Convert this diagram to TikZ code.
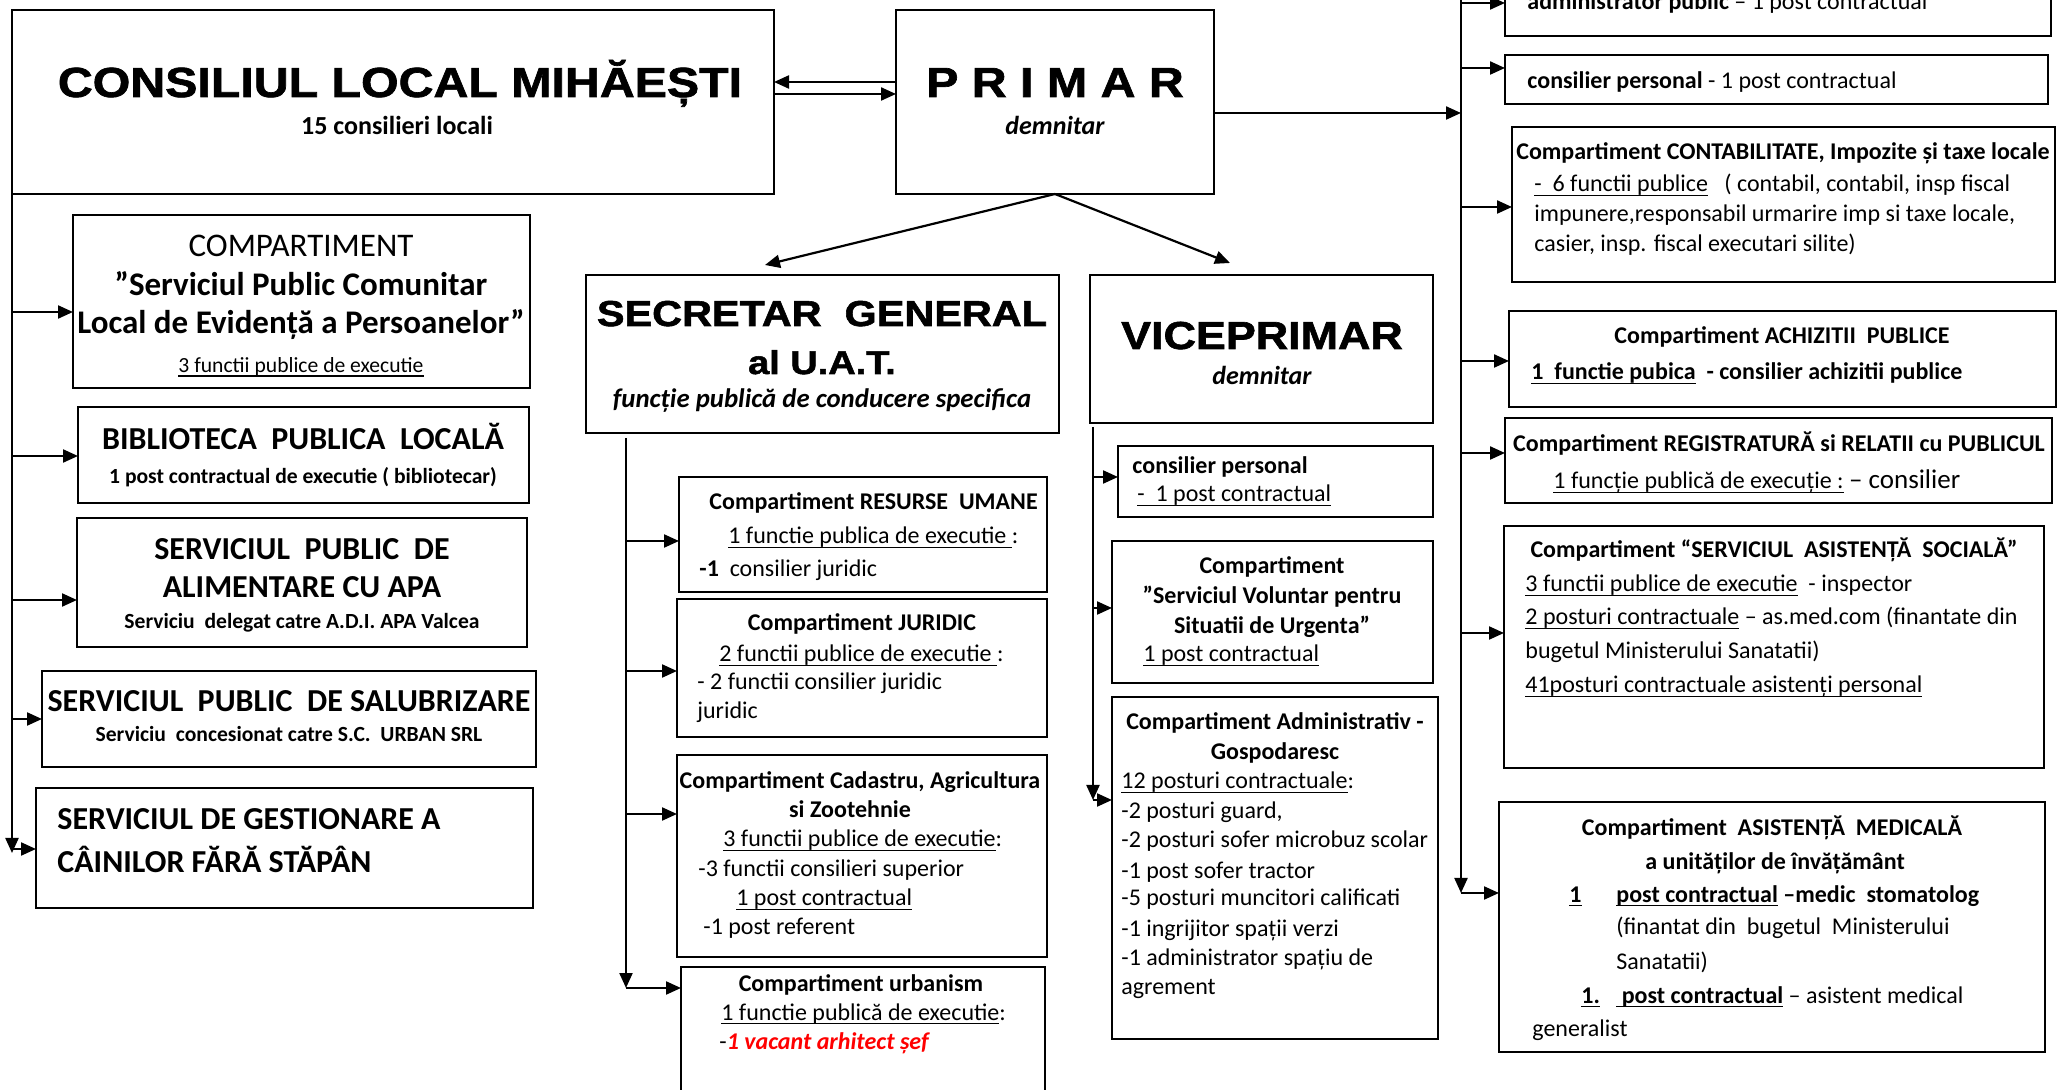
\documentclass[tikz,border=0pt]{standalone}
\usepackage{fontspec}
\setmainfont{Carlito}
\newfontfamily\hfont{Liberation Sans}[FakeStretch=1.15,FakeBold=1.6]
\usetikzlibrary{arrows.meta,fit}
\newcounter{tn}
\newcommand\ct[3]{\stepcounter{tn}\node[anchor=base,inner sep=0pt] (t\arabic{tn}) at (#1,#2) {#3};}
\newcommand\lt[3]{\stepcounter{tn}\node[anchor=base west,inner sep=0pt] (t\arabic{tn}) at (#1,#2) {#3};}
\newcommand\bx[5]{\node[box,fit={(#2,#3) (#4,#5)}] (#1) {};}
\newcommand\fs[1]{\fontsize{#1}{#1}\selectfont}
\newcommand\hf[2]{{\hfont\bfseries\fontsize{#1}{#1}\selectfont #2}}
\newcommand\uline[1]{{\setbox0=\hbox{#1}\rlap{\rule[-0.17em]{\wd0}{0.055em}}\box0}}
\tikzset{
  box/.style={draw, line width=1pt, inner sep=0pt, outer sep=0pt},
  arr/.style={line width=1.1pt, -{Triangle[length=7.5pt,width=6.5pt]}},
  every node/.style={font=\fontsize{12}{14}\selectfont}
}
\begin{document}
\begin{tikzpicture}[x=0.5pt,y=-0.5pt]
\useasboundingbox (0,0) rectangle (2058,1090);
\fill[white] (0,0) rectangle (2058,1090);
% ---------- boxes
\bx{consiliul}{12}{10}{774}{194}
\bx{primar}{896}{10}{1214}{194}
\bx{r1}{1505}{-40}{2051}{36}
\bx{r2}{1505}{55}{2048}{104}
\bx{r3}{1512}{127}{2055}{282}
\bx{r4}{1509}{311}{2056}{407}
\bx{r5}{1505}{418}{2052}{503}
\bx{r6}{1504}{526}{2044}{768}
\bx{r7}{1499}{802}{2045}{1052}
\bx{l1}{73}{215}{530}{388}
\bx{l2}{78}{407}{529}{503}
\bx{l3}{77}{518}{527}{647}
\bx{l4}{42}{671}{536}{767}
\bx{l5}{36}{788}{533}{908}
\bx{sec}{586}{275}{1059}{433}
\bx{m1}{679}{477}{1047}{592}
\bx{m2}{677}{599}{1047}{737}
\bx{m3}{677}{755}{1047}{957}
\bx{m4}{681}{967}{1045}{1110}
\bx{vice}{1090}{275}{1433}{423}
\bx{v1}{1118}{446}{1433}{517}
\bx{v2}{1112}{541}{1433}{683}
\bx{v3}{1112}{697}{1438}{1039}
% ---------- texts
\ct{400}{97}{\hf{21}{CONSILIUL LOCAL MIHĂEȘTI}}
\ct{397}{135}{\fs{13}\bfseries 15 consilieri locali}
\ct{1055}{97}{\hf{21}{P R I M A R}}
\ct{1055}{135}{\fs{13}\bfseries\itshape demnitar}
% right column
\lt{1527}{10}{{\bfseries administrator public} – 1 post contractual}
\lt{1527}{89}{{\bfseries consilier personal} - 1 post contractual}
\ct{1783}{160}{\bfseries Compartiment CONTABILITATE, Impozite și taxe locale}
\lt{1534}{192}{\uline{-\ \ 6 functii publice}\ \ \ ( contabil, contabil, insp fiscal}
\lt{1534}{222}{impunere,responsabil urmarire imp si taxe locale,}
\lt{1534}{252}{casier, insp. fiscal executari silite)}
\ct{1782}{344}{\bfseries Compartiment ACHIZITII\ \ PUBLICE}
\lt{1531}{380}{\bfseries\uline{1\ \ functie pubica}\ \ - consilier achizitii publice}
\ct{1779}{452}{\bfseries Compartiment REGISTRATURĂ si RELATII cu PUBLICUL}
\lt{1553}{489}{\uline{1 funcție publică de execuție :} {\fs{13.5}– consilier}}
\ct{1774}{558}{\bfseries Compartiment “SERVICIUL\ \ ASISTENȚĂ\ \ SOCIALĂ”}
\lt{1525}{592}{\uline{3 functii publice de executie}\ \ - inspector}
\lt{1525}{625}{\uline{2 posturi contractuale} – as.med.com (finantate din}
\lt{1525}{659}{bugetul Ministerului Sanatatii)}
\lt{1525}{693}{\uline{41posturi contractuale asistenți personal}}
\ct{1772}{836}{\bfseries Compartiment\ \ ASISTENȚĂ\ \ MEDICALĂ}
\ct{1775}{870}{\bfseries a unităților de învățământ}
\lt{1569}{902}{\bfseries\uline{1}}
\lt{1616}{902}{\bfseries\uline{post contractual} –medic\ \ stomatolog}
\lt{1616}{935}{(finantat din\ \ bugetul\ \ Ministerului}
\lt{1616}{969}{Sanatatii)}
\lt{1581}{1003}{\bfseries\uline{1.}}
\lt{1616}{1003}{{\bfseries\uline{\ post contractual}} – asistent medical}
\lt{1532}{1036}{generalist}
% left column
\ct{301}{257}{\fs{16.5}COMPARTIMENT}
\ct{301}{296}{\fs{16.5}\bfseries ”Serviciul Public Comunitar}
\ct{301}{334}{\fs{16.5}\bfseries Local de Evidență a Persoanelor”}
\ct{301}{373}{\fs{10.8}\uline{3 functii publice de executie}}
\ct{303}{450}{\fs{16}\bfseries BIBLIOTECA\ \ PUBLICA\ \ LOCALĂ}
\ct{303}{484}{\fs{10.8}\bfseries 1 post contractual de executie ( bibliotecar)}
\ct{302}{560}{\fs{16}\bfseries SERVICIUL\ \ PUBLIC\ \ DE}
\ct{302}{598}{\fs{16}\bfseries ALIMENTARE CU APA}
\ct{302}{629}{\fs{10.8}\bfseries Serviciu\ \ delegat catre A.D.I. APA Valcea}
\ct{289}{712}{\fs{16}\bfseries SERVICIUL\ \ PUBLIC\ \ DE SALUBRIZARE}
\ct{289}{742}{\fs{10.8}\bfseries Serviciu\ \ concesionat catre S.C.\ \ URBAN SRL}
\lt{57}{830}{\fs{16}\bfseries SERVICIUL DE GESTIONARE A}
\lt{57}{873}{\fs{16}\bfseries CÂINILOR FĂRĂ STĂPÂN}
% secretar
\ct{822}{326}{\hf{18}{SECRETAR\ \ GENERAL}}
\ct{822}{374}{\hf{16.5}{al U.A.T.}}
\ct{822}{408}{\fs{13.4}\bfseries\itshape funcție publică de conducere specifica}
\lt{709}{510}{\bfseries Compartiment RESURSE\ \ UMANE}
\lt{728}{544}{\uline{1 functie publica de executie }:}
\lt{699}{577}{{\bfseries -1}\ \ consilier juridic}
\ct{862}{631}{\bfseries Compartiment JURIDIC}
\lt{719}{662}{\uline{2 functii publice de executie }:}
\lt{697}{690}{- 2 functii consilier juridic}
\lt{697}{719}{juridic}
\ct{860}{789}{\bfseries Compartiment Cadastru, Agricultura}
\ct{850}{818}{\bfseries si Zootehnie}
\lt{723}{847}{\uline{3 functii publice de executie}:}
\lt{698}{877}{-3 functii consilieri superior}
\lt{736}{906}{\uline{1 post contractual}}
\lt{703}{935}{-1 post referent}
\ct{861}{991}{\bfseries Compartiment urbanism}
\lt{721}{1020}{\uline{1 functie publică de executie}:}
\lt{719}{1049}{-{\color{red}\bfseries\itshape 1 vacant arhitect șef}}
% viceprimar
\ct{1262}{349}{\hf{19.5}{VICEPRIMAR}}
\ct{1262}{385}{\fs{13}\bfseries\itshape demnitar}
\lt{1132}{474}{\bfseries consilier personal}
\lt{1137}{502}{\uline{-\ \ 1 post contractual}}
\ct{1272}{574}{\bfseries Compartiment}
\ct{1272}{604}{\bfseries ”Serviciul Voluntar pentru}
\ct{1272}{634}{\bfseries Situatii de Urgenta”}
\lt{1143}{662}{\uline{1 post contractual}}
\ct{1275}{730}{\bfseries Compartiment Administrativ -}
\ct{1275}{760}{\bfseries Gospodaresc}
\lt{1121}{789}{\uline{12 posturi contractuale}:}
\lt{1121}{819}{-2 posturi guard,}
\lt{1121}{848}{-2 posturi sofer microbuz scolar}
\lt{1121}{878}{-1 post sofer tractor}
\lt{1121}{906}{-5 posturi muncitori calificati}
\lt{1121}{936}{-1 ingrijitor spații verzi}
\lt{1121}{965}{-1 administrator spațiu de}
\lt{1121}{994}{agrement}
% ---------- connectors
\coordinate (ya) at (0,82);
\coordinate (yb) at (0,94);
\draw[arr] (primar.west |- ya) -- (consiliul.east |- ya);
\draw[arr] (consiliul.east |- yb) -- (primar.west |- yb);
\coordinate (sectip) at (765,265);
\coordinate (vicetip) at (1230,263);
\draw[arr] (primar.south) -- (sectip);
\draw[arr] (primar.south) -- (vicetip);
% right trunk
\coordinate (RT) at (1461,-5);
\coordinate (RTend) at (1461,893);
\coordinate (yp) at (0,113);
\draw[arr] (RT) -- (RTend);
\draw[arr] (primar.east |- yp) -- (RT |- yp);
\coordinate (rb1) at (1461,3);
\coordinate (rb2) at (1461,68);
\coordinate (rb3) at (1461,207);
\coordinate (rb4) at (1461,361);
\coordinate (rb5) at (1461,453);
\coordinate (rb6) at (1461,633);
\draw[arr] (rb1) -- (rb1 -| r1.west);
\draw[arr] (rb2) -- (rb2 -| r2.west);
\draw[arr] (rb3) -- (rb3 -| r3.west);
\draw[arr] (rb4) -- (rb4 -| r4.west);
\draw[arr] (rb5) -- (rb5 -| r5.west);
\draw[arr] (rb6) -- (rb6 -| r6.west);
\draw[arr] (RTend) -- (RTend -| r7.west);
% left trunk
\coordinate (Lend) at (12,853);
\draw[arr] (consiliul.south west) -- (Lend);
\coordinate (lb1) at (12,312);
\coordinate (lb2) at (12,456);
\coordinate (lb3) at (12,600);
\coordinate (lb4) at (12,719);
\coordinate (lb5) at (12,849);
\draw[arr] (lb1) -- (lb1 -| l1.west);
\draw[arr] (lb2) -- (lb2 -| l2.west);
\draw[arr] (lb3) -- (lb3 -| l3.west);
\draw[arr] (lb4) -- (lb4 -| l4.west);
\draw[arr] (lb5) -- (lb5 -| l5.west);
% secretar trunk
\coordinate (MT) at (626,438);
\coordinate (MTend) at (626,988);
\draw[arr] (MT) -- (MTend);
\coordinate (mb1) at (626,541);
\coordinate (mb2) at (626,671);
\coordinate (mb3) at (626,814);
\draw[arr] (mb1) -- (mb1 -| m1.west);
\draw[arr] (mb2) -- (mb2 -| m2.west);
\draw[arr] (mb3) -- (mb3 -| m3.west);
\draw[arr] (MTend) -- (MTend -| m4.west);
% viceprimar trunk
\coordinate (VT) at (1093,427);
\coordinate (VTend) at (1093,800);
\draw[arr] (VT) -- (VTend);
\coordinate (vb1) at (1093,477);
\coordinate (vb2) at (1093,608);
\draw[arr] (vb1) -- (vb1 -| v1.west);
\draw[arr] (vb2) -- (vb2 -| v2.west);
\draw[arr] (VTend) -- (VTend -| v3.west);
\end{tikzpicture}
\end{document}
